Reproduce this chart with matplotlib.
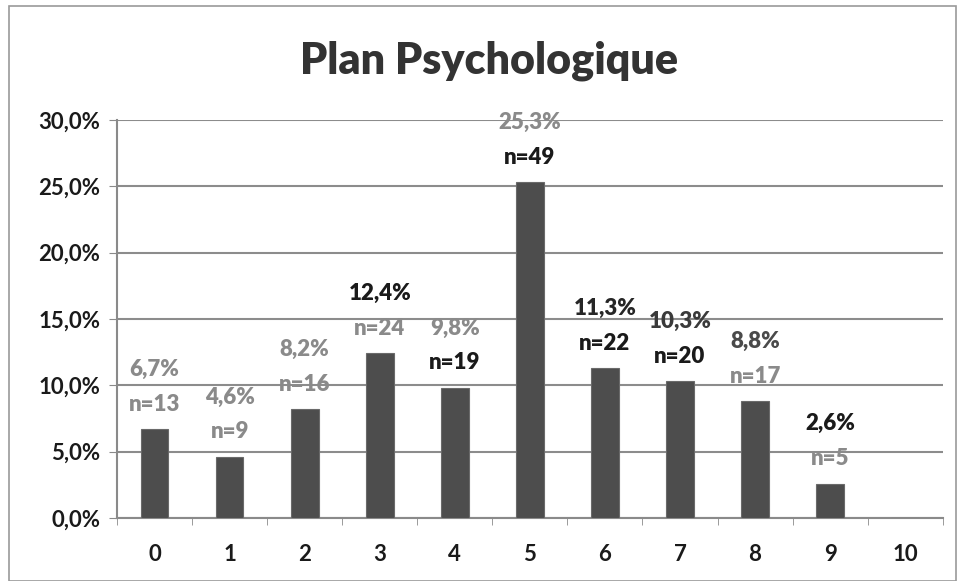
import matplotlib.pyplot as plt
import matplotlib.patches as mpatches
import numpy as np

categories = ['0', '1', '2', '3', '4', '5', '6', '7', '8', '9', '10']
percents = [6.7, 4.6, 8.2, 12.4, 9.8, 25.3, 11.3, 10.3, 8.8, 2.6, 0.0]
counts = [13, 9, 16, 24, 19, 49, 22, 20, 17, 5, None]

# label colours as they appear in the scan (grey or black)
pct_colors = ['#8a8a8a', '#8a8a8a', '#8a8a8a', '#1a1a1a', '#8a8a8a', '#8a8a8a',
              '#262626', '#3a3a3a', '#4a4a4a', '#1a1a1a', '#1a1a1a']
n_colors = ['#8a8a8a', '#8a8a8a', '#8a8a8a', '#8a8a8a', '#1a1a1a', '#1a1a1a',
            '#1a1a1a', '#1a1a1a', '#8a8a8a', '#8a8a8a', '#1a1a1a']

plt.rcParams['font.family'] = ['Lato', 'DejaVu Sans']
W = 'heavy'

fig = plt.figure(figsize=(9.62, 5.81), dpi=100)
ax = fig.add_axes([0.1216, 0.1084, 0.8584, 0.6851])

x = np.arange(len(categories))
ax.bar(x, percents, width=0.37, color='#4d4d4d', edgecolor='#6a6a6a', linewidth=0.8, zorder=3)

ax.set_xlim(-0.5, len(categories) - 0.5)
ax.set_ylim(0, 30)
ax.set_yticks(np.arange(0, 30.1, 5))
ax.set_yticklabels([f"{v:.1f}%".replace('.', ',') for v in np.arange(0, 30.1, 5)],
                   fontsize=16, fontweight='bold', color='#1a1a1a')
ax.set_xticks(x)
ax.set_xticklabels(categories, fontsize=16, fontweight='bold', color='#1a1a1a')
ax.set_xticks(np.arange(-0.5, len(categories), 1), minor=True)

ax.tick_params(axis='x', which='major', length=0, pad=19)
ax.tick_params(axis='x', which='minor', length=5, direction='out', color='#8a8a8a')
ax.tick_params(axis='y', length=6, direction='out', color='#8a8a8a', pad=6)

ax.grid(axis='y', color='#8c8c8c', linewidth=1.5, zorder=0)
for side in ['top', 'right']:
    ax.spines[side].set_visible(False)
for side in ['left', 'bottom']:
    ax.spines[side].set_color('#8a8a8a')
    ax.spines[side].set_linewidth(1.5)

# two-line data labels: percentage then count
for i, (p, n) in enumerate(zip(percents, counts)):
    if n is None:
        continue
    ax.annotate(f"n={n}", (x[i], p), xytext=(0, 18), textcoords='offset points',
                ha='center', va='center', fontsize=16, fontweight=W, color=n_colors[i])
    ax.annotate(f"{p:.1f}%".replace('.', ','), (x[i], p), xytext=(0, 43), textcoords='offset points',
                ha='center', va='center', fontsize=16, fontweight=W, color=pct_colors[i])

fig.text(0.508, 0.895, 'Plan Psychologique', ha='center', va='center',
         fontsize=31, fontweight=W, color='#333333')

# outer chart frame
fig.patches.append(mpatches.Rectangle((0.009, 0.0), 0.985, 0.99, transform=fig.transFigure,
                                      fill=False, edgecolor='#9a9a9a', linewidth=1.2))

fig.savefig('out.png', dpi=100)
